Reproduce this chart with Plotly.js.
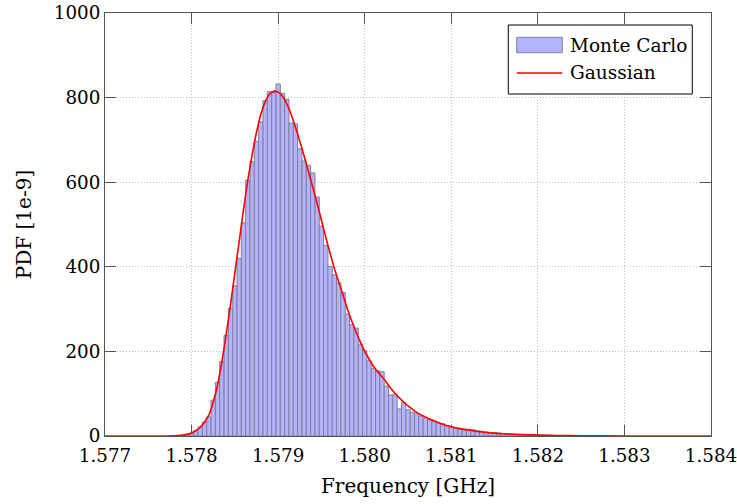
<!DOCTYPE html>
<html>
<head>
<meta charset="utf-8">
<script src="https://cdn.plot.ly/plotly-3.0.1.min.js"></script>
<style>html,body{margin:0;padding:0;background:#fff;}#chart{width:737px;height:504px;}</style>
</head>
<body>
<div id="chart"></div>
<script>
// Histogram bins (centre frequency in GHz) and Monte Carlo PDF values [1e-9]
const binCenters = [
  1.57790, 1.57795, 1.57800, 1.57805, 1.57810, 1.57815, 1.57820, 1.57825, 1.57830, 1.57835,
  1.57840, 1.57845, 1.57850, 1.57855, 1.57860, 1.57865, 1.57870, 1.57875, 1.57880, 1.57885,
  1.57890, 1.57895, 1.57900, 1.57905, 1.57910, 1.57915, 1.57920, 1.57925, 1.57930, 1.57935,
  1.57940, 1.57945, 1.57950, 1.57955, 1.57960, 1.57965, 1.57970, 1.57975, 1.57980, 1.57985,
  1.57990, 1.57995, 1.58000, 1.58005, 1.58010, 1.58015, 1.58020, 1.58025, 1.58030, 1.58035,
  1.58040, 1.58045, 1.58050, 1.58055, 1.58060, 1.58065, 1.58070, 1.58075, 1.58080, 1.58085,
  1.58090, 1.58095, 1.58100, 1.58105, 1.58110, 1.58115, 1.58120, 1.58125, 1.58130, 1.58135,
  1.58140, 1.58145, 1.58150, 1.58155, 1.58160, 1.58165, 1.58170, 1.58175, 1.58180, 1.58185,
  1.58190, 1.58195, 1.58200, 1.58205, 1.58210, 1.58215, 1.58220, 1.58225, 1.58230, 1.58235,
  1.58240, 1.58245, 1.58250
];
const monteCarlo = [
  1, 2, 5, 12, 22, 33, 45, 85, 127, 176,
  238, 302, 355, 420, 504, 605, 649, 697, 743, 793,
  814, 812, 832, 810, 796, 740, 738, 679, 650, 640,
  622, 565, 496, 450, 401, 381, 362, 339, 288, 263,
  255, 217, 202, 178, 160, 154, 152, 118, 97, 99,
  64, 79, 62, 56, 53, 47, 43, 38, 34, 31,
  29, 25, 21, 19, 16, 14, 16, 15, 12, 11,
  9, 8, 8, 7, 6, 5, 5, 4, 4, 3,
  3, 3, 2, 2, 2, 2, 1, 1, 1, 1,
  1, 1, 1
];
const binWidth = 0.00005;

// Fitted curve ("Gaussian")
const curveX = [
  1.57700, 1.57760, 1.57780, 1.57790, 1.57800, 1.57805, 1.57810, 1.57815, 1.57820, 1.57825,
  1.57830, 1.57835, 1.57840, 1.57845, 1.57850, 1.57855, 1.57860, 1.57865, 1.57870, 1.57875,
  1.57880, 1.57885, 1.57890, 1.57895, 1.57900, 1.57905, 1.57910, 1.57915, 1.57920, 1.57925,
  1.57930, 1.57935, 1.57940, 1.57945, 1.57950, 1.57955, 1.57960, 1.57965, 1.57970, 1.57975,
  1.57980, 1.57985, 1.57990, 1.57995, 1.58000, 1.58005, 1.58010, 1.58015, 1.58020, 1.58025,
  1.58030, 1.58035, 1.58040, 1.58045, 1.58050, 1.58060, 1.58070, 1.58080, 1.58090, 1.58100,
  1.58110, 1.58120, 1.58130, 1.58140, 1.58150, 1.58160, 1.58180, 1.58200, 1.58220, 1.58250,
  1.58300, 1.58400
];
const curveY = [
  0, 0, 0.5, 2, 7, 13, 20, 33, 50, 80,
  120, 175, 240, 310, 385, 460, 535, 605, 665, 718,
  760, 790, 808, 815, 813, 803, 785, 760, 730, 697,
  662, 625, 588, 550, 510, 470, 432, 396, 364, 333,
  300, 272, 246, 222, 200, 182, 165, 152, 140, 127,
  113, 101, 90, 80, 71, 56, 45, 36, 28, 22,
  17.5, 14, 11, 8.5, 6.8, 5.3, 3.3, 2, 1.2, 0.6,
  0.15, 0
];

const xTicks = [1.577, 1.578, 1.579, 1.580, 1.581, 1.582, 1.583, 1.584];
const yTicks = [0, 200, 400, 600, 800, 1000];
const legendLabels = ['Monte Carlo', 'Gaussian'];

const FONT = 'DejaVu Serif';
const AX = '#555555';

const traces = [
  {
    type: 'bar', name: legendLabels[0], x: binCenters, y: monteCarlo,
    width: binWidth,
    marker: {color: '#b3b3ff', line: {color: '#80809a', width: 1}},
    showlegend: false, hoverinfo: 'x+y'
  },
  {
    type: 'scatter', mode: 'lines', name: legendLabels[1], x: curveX, y: curveY,
    line: {color: '#ff0000', width: 1.6, shape: 'spline', smoothing: 0.6},
    showlegend: false
  }
];

const axisCommon = {
  showline: true, linecolor: AX, linewidth: 1, mirror: 'ticks',
  ticks: 'inside', ticklen: 11, tickcolor: AX, tickwidth: 1,
  showgrid: true, gridcolor: '#bdbdbd', griddash: '1px,2px', gridwidth: 1,
  zeroline: false, layer: 'below traces', ticklabeloverflow: 'allow',
  tickfont: {family: FONT, size: 18.3, color: '#000'}
};

const shapes = [
  {type: 'rect', xref: 'paper', yref: 'paper', x0: 0.6655, x1: 0.9691, y0: 0.8085, y1: 0.9716,
   line: {color: '#000', width: 1}, fillcolor: '#fff', layer: 'above'},
  {type: 'rect', xref: 'paper', yref: 'paper', x0: 0.6794, x1: 0.7546, y0: 0.9061, y1: 0.9426,
   line: {color: '#80809a', width: 1}, fillcolor: '#b3b3ff', layer: 'above'},
  {type: 'line', xref: 'paper', yref: 'paper', x0: 0.6794, x1: 0.7546, y0: 0.8582, y1: 0.8582,
   line: {color: '#ff0000', width: 1.6}, layer: 'above'}
];

const annotations = [
  {xref: 'paper', yref: 'paper', x: 0.7640, y: 0.9243, xanchor: 'left', yanchor: 'middle',
   text: legendLabels[0], showarrow: false, font: {family: FONT, size: 18.5, color: '#000'}},
  {xref: 'paper', yref: 'paper', x: 0.7640, y: 0.8582, xanchor: 'left', yanchor: 'middle',
   text: legendLabels[1], showarrow: false, font: {family: FONT, size: 18.5, color: '#000'}}
];

const layout = {
  width: 737, height: 504,
  margin: {l: 105, r: 26, t: 13, b: 68, pad: 0},
  paper_bgcolor: '#fff', plot_bgcolor: '#fff',
  bargap: 0, showlegend: false,
  font: {family: FONT, color: '#000'},
  xaxis: Object.assign({}, axisCommon, {
    range: [1.577, 1.5840000001], tickvals: xTicks, tickformat: '.3f',
    ticklabelstandoff: 3,
    title: {text: 'Frequency [GHz]', font: {family: FONT, size: 20, color: '#000'}, standoff: 14}
  }),
  yaxis: Object.assign({}, axisCommon, {
    range: [0, 1000], tickvals: yTicks,
    title: {text: 'PDF [1e-9]', font: {family: FONT, size: 20, color: '#000'}, standoff: 16}
  }),
  shapes: shapes,
  annotations: annotations
};

Plotly.newPlot('chart', traces, layout, {displayModeBar: false, staticPlot: true});
</script>
</body>
</html>
